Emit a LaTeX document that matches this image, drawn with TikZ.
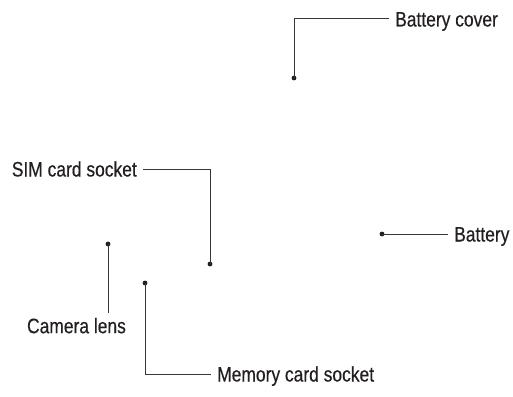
\documentclass[tikz,border=0pt]{standalone}
\usepackage{fontspec}
\newfontfamily\partfont{Liberation Sans}[FakeStretch=0.83,FakeBold=0.4]
\usetikzlibrary{positioning}
\definecolor{leadgray}{RGB}{55,55,55}
\definecolor{inkgray}{RGB}{35,31,32}

\begin{document}
\begin{tikzpicture}[x=1pt,y=-1pt,
    every node/.style={font=\partfont\fontsize{21}{24}\selectfont,text=inkgray},
    partlabel/.style={inner xsep=6pt,inner ysep=0pt,text height=15pt,text depth=0pt},
    lead/.style={draw=leadgray,line width=1pt},
    pin/.style={circle,fill=inkgray,inner sep=0pt,minimum size=4.8pt}]
        \useasboundingbox (0,0) rectangle (513,396);
        % pins
        \node[pin] (coverpin) at (294,78) {};
        \node[pin] (simpin) at (210,264) {};
        \node[pin] (campin) at (108,244) {};
        \node[pin] (mempin) at (145,283) {};
        \node[pin] (battpin) at (382,234) {};
        % labels
        \node[partlabel,anchor=west] (cover) at (389,19) {Battery cover};
        \node[partlabel,anchor=east] (sim) at (143,169) {SIM card socket};
        \node[partlabel,anchor=north,inner xsep=0pt] (cam) at (76.5,318) {Camera lens};
        \node[partlabel,anchor=west] (mem) at (211,374) {Memory card socket};
        \node[partlabel,anchor=west] (batt) at (448,234) {Battery};
        % leaders
        \draw[lead] (coverpin.center) |- (cover.west);
        \draw[lead] (sim.east) -| (simpin.center);
        \draw[lead,shorten >=5pt] (campin.center) -- (campin.center |- cam.north);
        \draw[lead] (mempin.center) |- (mem.west);
        \draw[lead] (battpin.center) -- (batt.west);
      \end{tikzpicture}
\end{document}
